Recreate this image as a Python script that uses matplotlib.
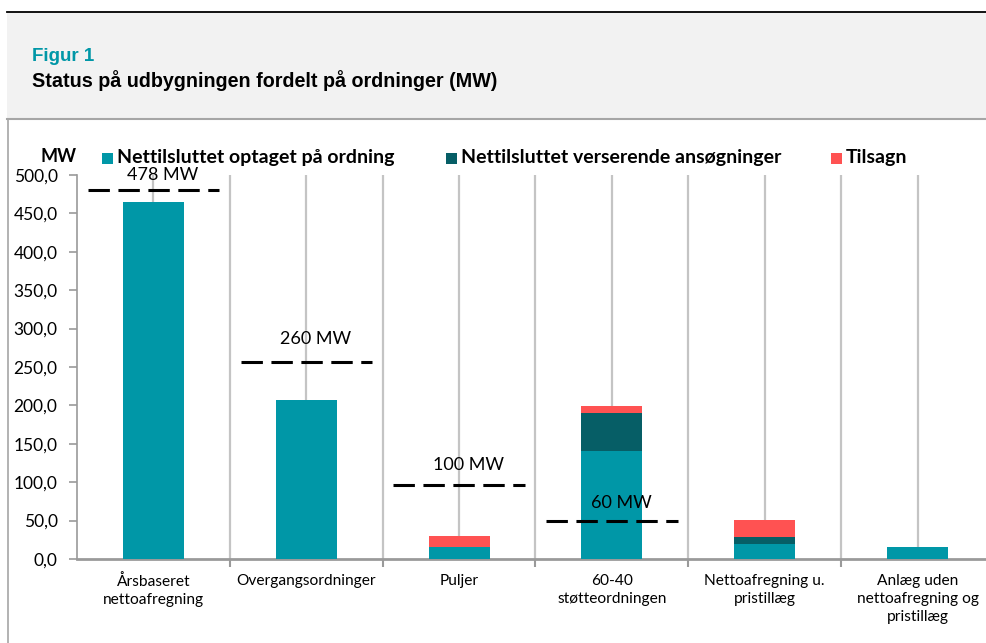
import numpy as np
import matplotlib
matplotlib.use("Agg")
from matplotlib import pyplot as plt
from matplotlib.patches import Rectangle
from matplotlib.lines import Line2D

plt.rcParams["font.family"] = ["Lato", "DejaVu Sans"]

# DATA ##########################################
categories = ["Årsbaseret\nnettoafregning", "Overgangsordninger", "Puljer",
              "60-40\nstøtteordningen", "Nettoafregning u.\npristillæg",
              "Anlæg uden\nnettoafregning og\npristillæg"]
optaget = [465, 207, 16, 140, 20, 16]
verserende = [0, 0, 0, 50, 9, 0]
tilsagn = [0, 0, 14, 9, 22, 0]
series_names = ["Nettilsluttet optaget på ordning",
                "Nettilsluttet verserende ansøgninger", "Tilsagn"]

limit_pos = [0, 1, 2, 3]
limit_level = [481, 257, 97, 50]
limit_text = ["478 MW", "260 MW", "100 MW", "60 MW"]
limit_text_y = [500, 286, 122, 73]

TEAL = "#0097a7"
DARK = "#065e66"
RED = "#ff5252"
GRID = "#c4c4c4"
AXIS = "#9a9a9a"

# FIGURE ########################################
W, H = 986, 643
fig = plt.figure(figsize=(W / 100, H / 100), dpi=100)

def fx(px):
    return px / W

def fy(py):
    return 1 - py / H

# header band
fig.patches.append(Rectangle((fx(7), fy(118)), 1, 106 / H, transform=fig.transFigure,
                             facecolor="#f2f2f2", edgecolor="none", zorder=0))
fig.lines.append(Line2D([fx(7), 1], [fy(12)] * 2, transform=fig.transFigure, color="black", lw=1.3))
fig.lines.append(Line2D([fx(7), 1], [fy(119)] * 2, transform=fig.transFigure, color="#a6a6a6", lw=1.5))
fig.lines.append(Line2D([fx(7.5)] * 2, [0, fy(119)], transform=fig.transFigure, color="#a6a6a6", lw=1.2))
fig.text(fx(32), fy(61), "Figur 1", color=TEAL, fontsize=13.5, fontweight="bold",
         family=["Liberation Sans", "DejaVu Sans"], va="baseline")
fig.text(fx(32), fy(87), "Status på udbygningen fordelt på ordninger (MW)", color="black",
         fontsize=14.2, fontweight="bold", family=["Liberation Sans", "DejaVu Sans"], va="baseline")

ax = fig.add_axes([fx(77), fy(559), (994 - 77) / W, (559 - 175) / H])
x = np.arange(len(categories))
bottom2 = np.array(optaget)
bottom3 = bottom2 + np.array(verserende)
ax.bar(x, optaget, width=0.4, color=TEAL, zorder=3)
ax.bar(x, verserende, width=0.4, bottom=bottom2, color=DARK, zorder=3)
ax.bar(x, tilsagn, width=0.4, bottom=bottom3, color=RED, zorder=3)

# limit lines
for p, lvl, txt, ty in zip(limit_pos, limit_level, limit_text, limit_text_y):
    ax.plot([p - 0.43, p + 0.43], [lvl, lvl], color="black", lw=2.2, ls=(0, (7, 2.8)),
            zorder=4, solid_capstyle="butt", dash_capstyle="butt")
    ax.text(p + 0.06, ty, txt, ha="center", va="center", fontsize=13, zorder=5)

ax.set_xlim(-0.5, 5.5)
ax.set_ylim(0, 500)
yt = np.arange(0, 501, 50)
ax.set_yticks(yt)
ax.set_yticklabels([f"{v:.1f}".replace(".", ",") for v in yt], fontsize=12.5)
ax.set_xticks(x)
ax.set_xticklabels(categories, fontsize=11.2, linespacing=1.35)
ax.tick_params(axis="x", length=0, pad=11)
ax.set_xticks(np.arange(0.5, 5.5, 1), minor=True)
ax.tick_params(axis="x", which="minor", length=6, color=AXIS, width=1.5)
ax.tick_params(axis="y", length=6, color=AXIS, width=1.2, pad=8)

for gx in np.arange(0, 6, 0.5):
    ax.axvline(gx, color=GRID, lw=1.6, zorder=1)

for s in ["top", "right"]:
    ax.spines[s].set_visible(False)
ax.spines["left"].set_color(AXIS)
ax.spines["left"].set_linewidth(1.2)
ax.spines["bottom"].set_color(AXIS)
ax.spines["bottom"].set_linewidth(2)

# legend row
fig.text(fx(58), fy(157), "MW", fontsize=13, fontweight="bold", ha="center", va="center")
legend_sq = [102, 446, 831]
for sx, col, name in zip(legend_sq, [TEAL, DARK, RED], series_names):
    fig.patches.append(Rectangle((fx(sx), fy(164)), 11 / W, 11 / H, transform=fig.transFigure,
                                 facecolor=col, edgecolor="none"))
    fig.text(fx(sx + 15), fy(157), name, fontsize=14, fontweight="bold", ha="left", va="center")

fig.savefig("out.png", dpi=100)
